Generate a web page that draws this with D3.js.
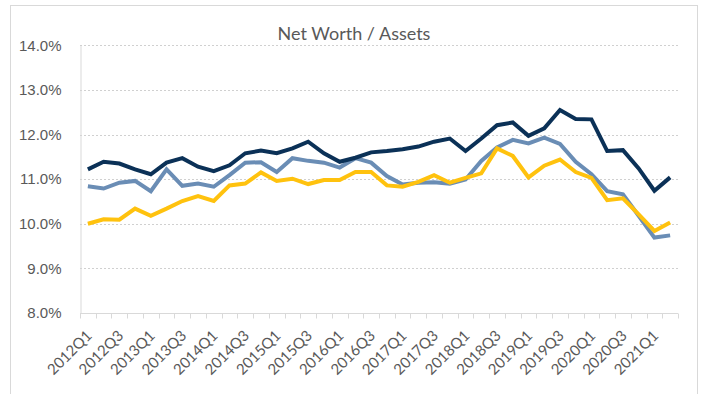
<!DOCTYPE html>
<html>
<head>
<meta charset="utf-8">
<script src="https://cdn.jsdelivr.net/npm/d3@7"></script>
<style>
  html, body { margin: 0; padding: 0; background: #fff; }
  svg { display: block; font-family: Lato, "Open Sans", sans-serif; }
</style>
</head>
<body>
<svg id="chart" width="707" height="394"></svg>
<script>
// Quarters 2012Q1 .. 2021Q2
const quarters = [];
for (let yr = 2012; yr <= 2021; yr++) {
  for (let q = 1; q <= 4; q++) {
    if (yr === 2021 && q > 2) break;
    quarters.push(yr + "Q" + q);
  }
}

// Net worth / assets ratio (%), three series
const seriesDark = [11.22, 11.39, 11.35, 11.22, 11.11, 11.37, 11.47, 11.28, 11.18, 11.31,
  11.58, 11.64, 11.58, 11.69, 11.84, 11.58, 11.39, 11.48, 11.60, 11.63,
  11.67, 11.73, 11.84, 11.91, 11.63, 11.91, 12.21, 12.27, 11.97, 12.14,
  12.55, 12.35, 12.34, 11.63, 11.65, 11.24, 10.74, 11.04];
const seriesMid = [10.84, 10.79, 10.92, 10.96, 10.73, 11.22, 10.85, 10.90, 10.83, 11.09,
  11.37, 11.38, 11.16, 11.47, 11.41, 11.37, 11.26, 11.47, 11.37, 11.07,
  10.88, 10.92, 10.93, 10.90, 10.99, 11.41, 11.71, 11.88, 11.80, 11.93,
  11.79, 11.39, 11.11, 10.73, 10.66, 10.18, 9.69, 9.74];
const seriesGold = [10.00, 10.10, 10.09, 10.34, 10.18, 10.34, 10.51, 10.62, 10.51, 10.86,
  10.90, 11.15, 10.96, 11.01, 10.89, 10.98, 10.98, 11.16, 11.16, 10.86,
  10.83, 10.94, 11.09, 10.92, 11.03, 11.13, 11.69, 11.52, 11.04, 11.30,
  11.44, 11.16, 11.03, 10.53, 10.57, 10.21, 9.84, 10.03];

const yTicks = [8, 9, 10, 11, 12, 13, 14];

const svg = d3.select("#chart");
const plotLeft = 80, plotRight = 678, plotTop = 45.3, plotBottom = 313;

// Outer chart frame
svg.append("rect")
  .attr("x", 10.5).attr("y", 5.5)
  .attr("width", 687).attr("height", 400)
  .attr("fill", "none").attr("stroke", "#d9d9d9").attr("stroke-width", 1);

const x = d3.scaleBand().domain(quarters).range([plotLeft, plotRight]);
const y = d3.scaleLinear().domain([8, 14]).range([plotBottom, plotTop]);

// Horizontal gridlines
svg.append("g")
  .selectAll("line")
  .data(yTicks.filter(t => t > 8))
  .join("line")
  .attr("x1", plotLeft).attr("x2", plotRight)
  .attr("y1", d => Math.round(y(d)) + 0.5).attr("y2", d => Math.round(y(d)) + 0.5)
  .attr("stroke", "#d0d0d0").attr("stroke-width", 1)
  .attr("stroke-dasharray", "2,2");

// Y axis
const yAxis = svg.append("g")
  .attr("transform", `translate(${plotLeft + 0.5},0)`)
  .call(d3.axisLeft(y).tickValues(yTicks).tickFormat(d => d.toFixed(1) + "%").tickSize(0).tickPadding(19));
yAxis.select(".domain").attr("stroke", "#d9d9d9");
yAxis.selectAll("text").attr("fill", "#595959").style("font-size", "15px");

// X axis: ticks at category boundaries, labels every other quarter
const xAxisG = svg.append("g").attr("transform", `translate(0,${Math.round(plotBottom) + 0.5})`);
xAxisG.append("line")
  .attr("x1", plotLeft).attr("x2", plotRight)
  .attr("stroke", "#d9d9d9");
const boundaries = quarters.map(q => x(q)).concat([plotRight]);
xAxisG.selectAll("line.tick")
  .data(boundaries)
  .join("line")
  .attr("class", "tick")
  .attr("x1", d => Math.round(d) + 0.5).attr("x2", d => Math.round(d) + 0.5)
  .attr("y1", 0).attr("y2", 5)
  .attr("stroke", "#d9d9d9");
xAxisG.selectAll("text")
  .data(quarters.filter((q, i) => i % 2 === 0))
  .join("text")
  .attr("transform", d => `translate(${x(d) + x.bandwidth() / 2 + 5},${23}) rotate(-45)`)
  .attr("text-anchor", "end")
  .attr("fill", "#595959")
  .style("font-size", "15px")
  .text(d => d);

// Lines
const line = d3.line()
  .x((d, i) => x(quarters[i]) + x.bandwidth() / 2)
  .y(d => y(d));

const series = [
  { values: seriesMid, color: "#6a8db5" },
  { values: seriesGold, color: "#ffc20e" },
  { values: seriesDark, color: "#0b3157" }
];
svg.append("g")
  .selectAll("path")
  .data(series)
  .join("path")
  .attr("d", d => line(d.values))
  .attr("fill", "none")
  .attr("stroke", d => d.color)
  .attr("stroke-width", 4)
  .attr("stroke-linejoin", "miter");

// Title
svg.append("text")
  .attr("x", 354).attr("y", 40)
  .attr("text-anchor", "middle")
  .attr("fill", "#595959")
  .style("font-size", "18px")
  .text("Net Worth / Assets");
</script>
</body>
</html>
